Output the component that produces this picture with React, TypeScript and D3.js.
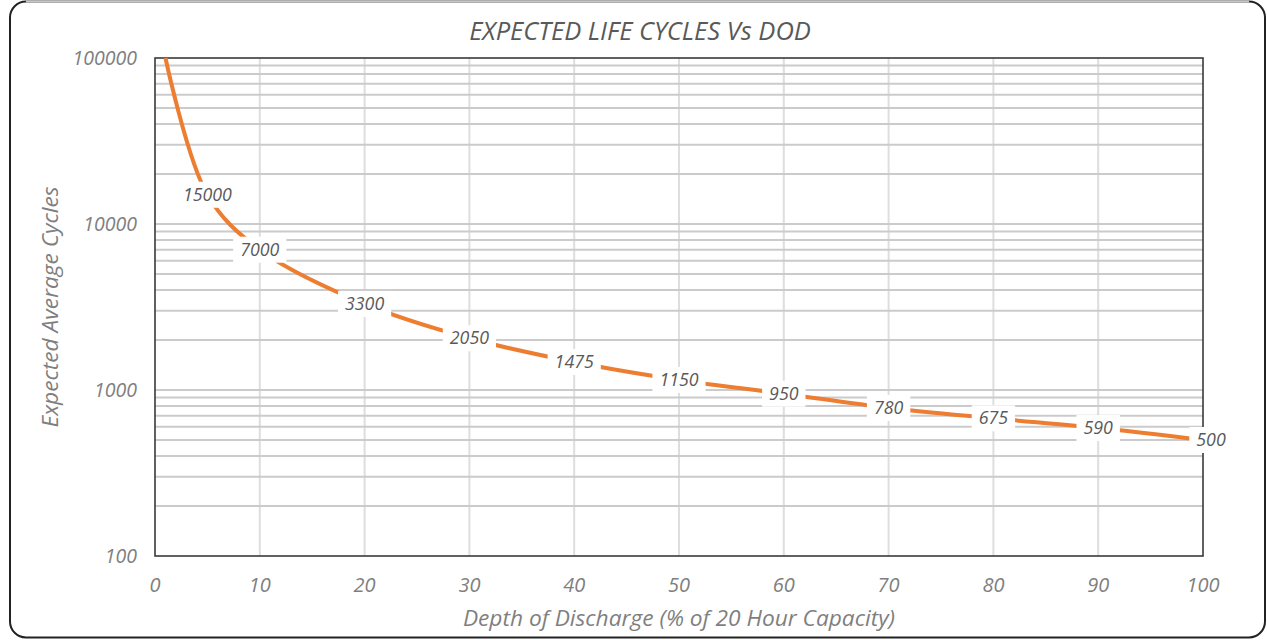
import React, { useEffect, useRef } from "react";
import * as d3 from "d3";

// Depth of discharge (%) and expected cycles
const dod = [1, 5, 10, 20, 30, 40, 50, 60, 70, 80, 90, 100];
const cycles = [100000, 15000, 7000, 3300, 2050, 1475, 1150, 950, 780, 675, 590, 500];
const showLabel = [false, true, true, true, true, true, true, true, true, true, true, true];
const xTicks = [0, 10, 20, 30, 40, 50, 60, 70, 80, 90, 100];
const yTicks = [100, 1000, 10000, 100000];

const W = 1267;
const H = 640;
const FONT = "'Open Sans', 'Liberation Sans', sans-serif";

export default function App() {
  const ref = useRef<SVGSVGElement>(null);

  useEffect(() => {
    const svg = d3.select(ref.current);
    svg.selectAll("*").remove();

    // plot area edges
    const left = 155, right = 1203, top = 58, bottom = 556;

    const x = d3.scaleLinear().domain([0, 100]).range([left, right]);
    const y = d3.scaleLog().domain([100, 100000]).range([bottom, top]);

    // outer frame
    const r = 16;
    svg.append("rect")
      .attr("x", 10).attr("y", 1.5)
      .attr("width", 1255).attr("height", 636)
      .attr("rx", r)
      .attr("fill", "#fff")
      .attr("stroke", "#222")
      .attr("stroke-width", 2);
    svg.append("line")
      .attr("x1", 10 + r).attr("x2", 1265 - r)
      .attr("y1", 1.5).attr("y2", 1.5)
      .attr("stroke", "#c8c8c8")
      .attr("stroke-width", 2);

    // title
    svg.append("text")
      .attr("x", 640).attr("y", 40)
      .attr("text-anchor", "middle")
      .style("font-family", FONT)
      .style("font-style", "italic")
      .style("font-size", "25.5px")
      .attr("fill", "#595959")
      .text("EXPECTED LIFE CYCLES Vs DOD");

    // grid lines
    const g = svg.append("g");
    g.selectAll(".vgrid")
      .data(xTicks.filter(d => d > 0 && d < 100))
      .join("line")
      .attr("class", "vgrid")
      .attr("x1", d => x(d)).attr("x2", d => x(d))
      .attr("y1", top).attr("y2", bottom)
      .attr("stroke", "#dedede")
      .attr("stroke-width", 2);

    g.selectAll(".hgrid")
      .data(y.ticks().filter(d => d > 100 && d < 100000))
      .join("line")
      .attr("class", "hgrid")
      .attr("x1", left).attr("x2", right)
      .attr("y1", d => y(d)).attr("y2", d => y(d))
      .attr("stroke", "#cbcbcb")
      .attr("stroke-width", 2);

    // plot border
    svg.append("rect")
      .attr("x", left).attr("y", top)
      .attr("width", right - left).attr("height", bottom - top)
      .attr("fill", "none")
      .attr("stroke", "#3a3a3a")
      .attr("stroke-width", 1.6);

    // tick labels
    svg.selectAll(".xtick")
      .data(xTicks)
      .join("text")
      .attr("class", "xtick")
      .attr("x", d => x(d)).attr("y", 592)
      .attr("text-anchor", "middle")
      .style("font-family", FONT)
      .style("font-style", "italic")
      .style("font-size", "20px")
      .attr("fill", "#7f7f7f")
      .text(d => d);

    svg.selectAll(".ytick")
      .data(yTicks)
      .join("text")
      .attr("class", "ytick")
      .attr("x", 137).attr("y", d => y(d) + 7)
      .attr("text-anchor", "end")
      .style("font-family", FONT)
      .style("font-style", "italic")
      .style("font-size", "19.5px")
      .attr("fill", "#7f7f7f")
      .text(d => d);

    // axis titles
    svg.append("text")
      .attr("x", 679).attr("y", 626)
      .attr("text-anchor", "middle")
      .style("font-family", FONT)
      .style("font-style", "italic")
      .style("font-size", "22.7px")
      .attr("fill", "#7f7f7f")
      .text("Depth of Discharge (% of 20 Hour Capacity)");

    svg.append("text")
      .attr("transform", "translate(58,307) rotate(-90)")
      .attr("text-anchor", "middle")
      .style("font-family", FONT)
      .style("font-style", "italic")
      .style("font-size", "22.7px")
      .attr("fill", "#7f7f7f")
      .text("Expected Average Cycles");

    // the curve
    const pts = dod.map((d, i) => [d, cycles[i]] as [number, number]);
    const line = d3.line<[number, number]>()
      .x(d => x(d[0]))
      .y(d => y(d[1]))
      .curve(d3.curveCatmullRom.alpha(0.5));

    svg.append("path")
      .datum(pts)
      .attr("d", line)
      .attr("fill", "none")
      .attr("stroke", "#ED7D31")
      .attr("stroke-width", 4);

    // data labels with white boxes
    const lab = svg.selectAll(".lab")
      .data(pts.filter((d, i) => showLabel[i]))
      .join("g")
      .attr("class", "lab")
      .attr("transform", d => `translate(${x(d[0]) + (d[0] === 100 ? 8 : 0)},${y(d[1])})`);

    lab.append("rect").attr("fill", "#fff");
    lab.append("text")
      .attr("text-anchor", "middle")
      .attr("y", 6)
      .style("font-family", FONT)
      .style("font-style", "italic")
      .style("font-size", "17.8px")
      .attr("fill", "#595959")
      .text(d => d[1]);

    lab.each(function () {
      const t = d3.select(this).select<SVGTextElement>("text").node()!;
      const w = t.getComputedTextLength() + 14;
      d3.select(this).select("rect")
        .attr("x", -w / 2).attr("y", -13)
        .attr("width", w).attr("height", 26);
    });
  }, []);

  return (
    <svg
      ref={ref}
      width={W}
      height={H}
      style={{ position: "absolute", left: 0, top: 0, background: "#fff" }}
    />
  );
}
